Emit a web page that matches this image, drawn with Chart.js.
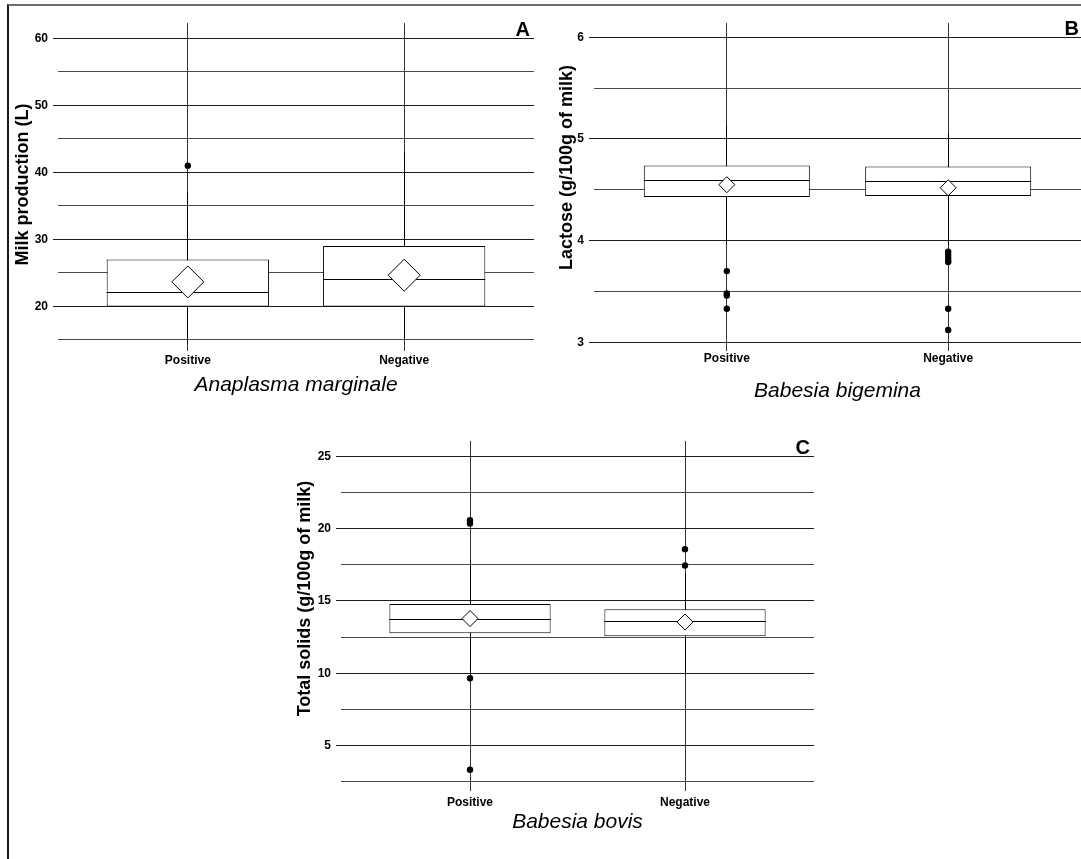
<!DOCTYPE html>
<html><head><meta charset="utf-8">
<script src="https://cdn.jsdelivr.net/npm/chart.js@4.4.1/dist/chart.umd.min.js"></script>
<style>
html,body{margin:0;padding:0;background:#fff;overflow:hidden;}
#page{position:relative;width:1081px;height:859px;overflow:hidden;}
#frame{position:absolute;left:7px;top:4px;width:1100px;height:900px;border-top:2px solid #6e6e6e;border-left:2px solid #1a1a1a;}
canvas{position:absolute;}
</style></head><body>
<div id="page">
<div id="frame"></div>
<canvas id="cA" width="540" height="410" style="left:0;top:0;width:540px;height:410px"></canvas>
<canvas id="cB" width="541" height="410" style="left:540px;top:0;width:541px;height:410px"></canvas>
<canvas id="cC" width="560" height="439" style="left:270px;top:420px;width:560px;height:439px"></canvas>
</div>
<script>
// ---------- shared ----------
const categories = ['Positive', 'Negative'];
const categoryPositions = [1, 2];
const panelLetters = ['A', 'B', 'C'];

// ---------- Panel A : Anaplasma marginale / milk production ----------
const aQ1 = [20, 20];
const aQ3 = [27, 29];
const aMedian = [22, 24];
const aMean = [23.65, 24.65];
const aWhiskerLow = [14.5, 15];
const aWhiskerHigh = [37, 43];
const aOutliersPositive = [41];
const aOutliersNegative = [];
const aGridTicks = [15, 20, 25, 30, 35, 40, 45, 50, 55, 60];
const aTickLabels = [20, 30, 40, 50, 60];
const aRange = [14.09, 62.29];

// ---------- Panel B : Babesia bigemina / lactose ----------
const bQ1 = [4.43, 4.44];
const bQ3 = [4.74, 4.73];
const bMedian = [4.59, 4.58];
const bMean = [4.55, 4.52];
const bWhiskerLow = [3.98, 3.95];
const bWhiskerHigh = [5.13, 5.06];
const bOutliersPositive = [3.70, 3.48, 3.46, 3.33];
const bOutliersNegative = [3.89, 3.86, 3.83, 3.80, 3.79, 3.33, 3.12];
const bGridTicks = [3, 3.5, 4, 4.5, 5, 5.5, 6];
const bTickLabels = [3, 4, 5, 6];
const bRange = [2.963, 6.141];

// ---------- Panel C : Babesia bovis / total solids ----------
const cQ1 = [12.76, 12.55];
const cQ3 = [14.78, 14.42];
const cMedian = [13.72, 13.61];
const cMean = [13.78, 13.54];
const cWhiskerLow = [10.1, 9.9];
const cWhiskerHigh = [17.8, 16.9];
const cOutliersPositive = [20.58, 20.35, 9.65, 3.32];
const cOutliersNegative = [18.58, 17.45];
const cGridTicks = [2.5, 5, 7.5, 10, 12.5, 15, 17.5, 20, 22.5, 25];
const cTickLabels = [5, 10, 15, 20, 25];
const cRange = [2.2, 26.06];

const FONT = '"Liberation Sans", Arial, Helvetica, sans-serif';
Chart.defaults.font.family = FONT;
Chart.defaults.color = '#000';

function alignPx(p) { return Math.round(p - 0.5) + 0.5; }

function makePanel(canvasId, d, L) {
  const pts = (vals, xv) => vals.map(v => ({x: xv, y: v}));
  const isMajor = c => c.tick && d.tickLabels.includes(c.tick.value);
  const extras = {
    id: 'extras_' + canvasId,
    afterDatasetDraw(chart, args) {
      if (args.index !== 0) return;
      const ctx = chart.ctx, ys = chart.scales.y;
      ctx.save();
      ctx.strokeStyle = '#000';
      ctx.lineWidth = 1;
      args.meta.data.forEach((bar, i) => {
        const {x, width} = bar.getProps(['x', 'width'], true);
        const ym = alignPx(ys.getPixelForValue(d.median[i]));
        const xc = alignPx(x);
        ctx.beginPath();
        ctx.moveTo(x - width / 2, ym); ctx.lineTo(x + width / 2, ym);
        ctx.moveTo(xc, ys.getPixelForValue(d.q3[i])); ctx.lineTo(xc, ys.getPixelForValue(d.whiskerHigh[i]));
        ctx.moveTo(xc, ys.getPixelForValue(d.q1[i])); ctx.lineTo(xc, ys.getPixelForValue(d.whiskerLow[i]));
        ctx.stroke();
      });
      ctx.restore();
    },
    afterDraw(chart) {
      const ctx = chart.ctx, ca = chart.chartArea, ys = chart.scales.y;
      ctx.save();
      ctx.fillStyle = '#000';
      // panel letter
      ctx.font = 'bold 20px ' + FONT;
      ctx.textAlign = 'right';
      ctx.textBaseline = 'alphabetic';
      const topTick = d.gridTicks[d.gridTicks.length - 1];
      ctx.fillText(d.letter, ca.right - L.letterInset, ys.getPixelForValue(topTick) - 2);
      // y axis title
      ctx.font = 'bold 18px ' + FONT;
      ctx.textAlign = 'center';
      ctx.textBaseline = 'middle';
      ctx.translate(L.yTitleX, (ca.top + ca.bottom) / 2 + L.yTitleShift);
      ctx.rotate(-Math.PI / 2);
      ctx.fillText(L.yTitle, 0, 0);
      ctx.restore();
    }
  };
  return new Chart(document.getElementById(canvasId), {
    type: 'bar',
    data: {
      datasets: [
        {
          type: 'bar',
          data: categoryPositions.map((p, i) => ({x: p, y: [d.q1[i], d.q3[i]]})),
          backgroundColor: '#fff', borderColor: '#000', borderWidth: 1, borderSkipped: false,
          barPercentage: 0.75, categoryPercentage: 1, order: 2
        },
        {
          type: 'scatter',
          data: categoryPositions.map((p, i) => ({x: p, y: d.mean[i]})),
          pointStyle: 'rectRot', pointRadius: L.meanRadius,
          pointBackgroundColor: '#fff', pointBorderColor: '#000', pointBorderWidth: 1, order: 1
        },
        {
          type: 'scatter',
          data: [...pts(d.outPos, categoryPositions[0]), ...pts(d.outNeg, categoryPositions[1])],
          pointStyle: 'circle', pointRadius: 3.2,
          pointBackgroundColor: '#000', pointBorderColor: '#000', pointBorderWidth: 0, order: 0
        }
      ]
    },
    options: {
      responsive: false, animation: false, devicePixelRatio: 1, events: [],
      layout: {autoPadding: false, padding: {left: 0, top: L.padTop, right: L.padRight, bottom: L.padBottom}},
      plugins: {legend: {display: false}, tooltip: {enabled: false}},
      scales: {
        x: {
          type: 'linear', min: 0.4, max: 2.6, offset: false, bounds: 'data',
          afterBuildTicks: s => { s.ticks = categoryPositions.map(v => ({value: v})); },
          afterFit: s => { s.height = L.xHeight; s.paddingLeft = 0; s.paddingRight = 0; },
          ticks: {
            callback: v => { const k = categoryPositions.indexOf(v); return k >= 0 ? categories[k] : ''; },
            font: {size: 12, weight: 'bold'}, color: '#000', padding: L.xTickPad, maxRotation: 0, autoSkip: false
          },
          grid: {offset: false, color: '#333', lineWidth: 1, tickLength: 5, drawTicks: true, tickColor: '#333'},
          border: {display: false},
          title: {display: true, text: L.xTitle, font: {size: 21, style: 'italic'}, color: '#000', padding: {top: 0, bottom: 0}}
        },
        y: {
          type: 'linear', min: d.range[0], max: d.range[1], bounds: 'data',
          afterBuildTicks: s => { s.ticks = d.gridTicks.map(v => ({value: v})); },
          afterFit: s => { s.width = L.yWidth; s.paddingTop = 0; s.paddingBottom = 0; },
          ticks: {
            callback: v => d.tickLabels.includes(v) ? String(v) : '',
            font: {size: 12, weight: 'bold'}, color: '#000', padding: 5, autoSkip: false
          },
          grid: {
            color: c => isMajor(c) ? '#1e1e1e' : '#4a4a4a',
            tickColor: c => isMajor(c) ? '#1e1e1e' : 'rgba(0,0,0,0)',
            tickLength: 5, lineWidth: 1
          },
          border: {display: false},
          title: {display: false}
        }
      }
    },
    plugins: [extras]
  });
}

makePanel('cA', {
  q1: aQ1, q3: aQ3, median: aMedian, mean: aMean, whiskerLow: aWhiskerLow, whiskerHigh: aWhiskerHigh,
  outPos: aOutliersPositive, outNeg: aOutliersNegative, gridTicks: aGridTicks, tickLabels: aTickLabels,
  range: aRange, letter: panelLetters[0]
}, {padTop: 23, padRight: 6, padBottom: 12, xHeight: 52, yWidth: 58, yTitleX: 23, yTitleShift: 0, xTickPad: 2,
    letterInset: 4, meanRadius: 16, xTitle: 'Anaplasma marginale', yTitle: 'Milk production (L)'});

makePanel('cB', {
  q1: bQ1, q3: bQ3, median: bMedian, mean: bMean, whiskerLow: bWhiskerLow, whiskerHigh: bWhiskerHigh,
  outPos: bOutliersPositive, outNeg: bOutliersNegative, gridTicks: bGridTicks, tickLabels: bTickLabels,
  range: bRange, letter: panelLetters[1]
}, {padTop: 23, padRight: 0, padBottom: 6, xHeight: 58, yWidth: 54, yTitleX: 27, yTitleShift: -17, xTickPad: 0,
    letterInset: 2, meanRadius: 8, xTitle: 'Babesia bigemina', yTitle: 'Lactose (g/100g of milk)'});

makePanel('cC', {
  q1: cQ1, q3: cQ3, median: cMedian, mean: cMean, whiskerLow: cWhiskerLow, whiskerHigh: cWhiskerHigh,
  outPos: cOutliersPositive, outNeg: cOutliersNegative, gridTicks: cGridTicks, tickLabels: cTickLabels,
  range: cRange, letter: panelLetters[2]
}, {padTop: 21, padRight: 16, padBottom: 24, xHeight: 49, yWidth: 71, yTitleX: 35, yTitleShift: -15, xTickPad: 4,
    letterInset: 4, meanRadius: 8, xTitle: 'Babesia bovis', yTitle: 'Total solids (g/100g of milk)'});
</script>
</body></html>
